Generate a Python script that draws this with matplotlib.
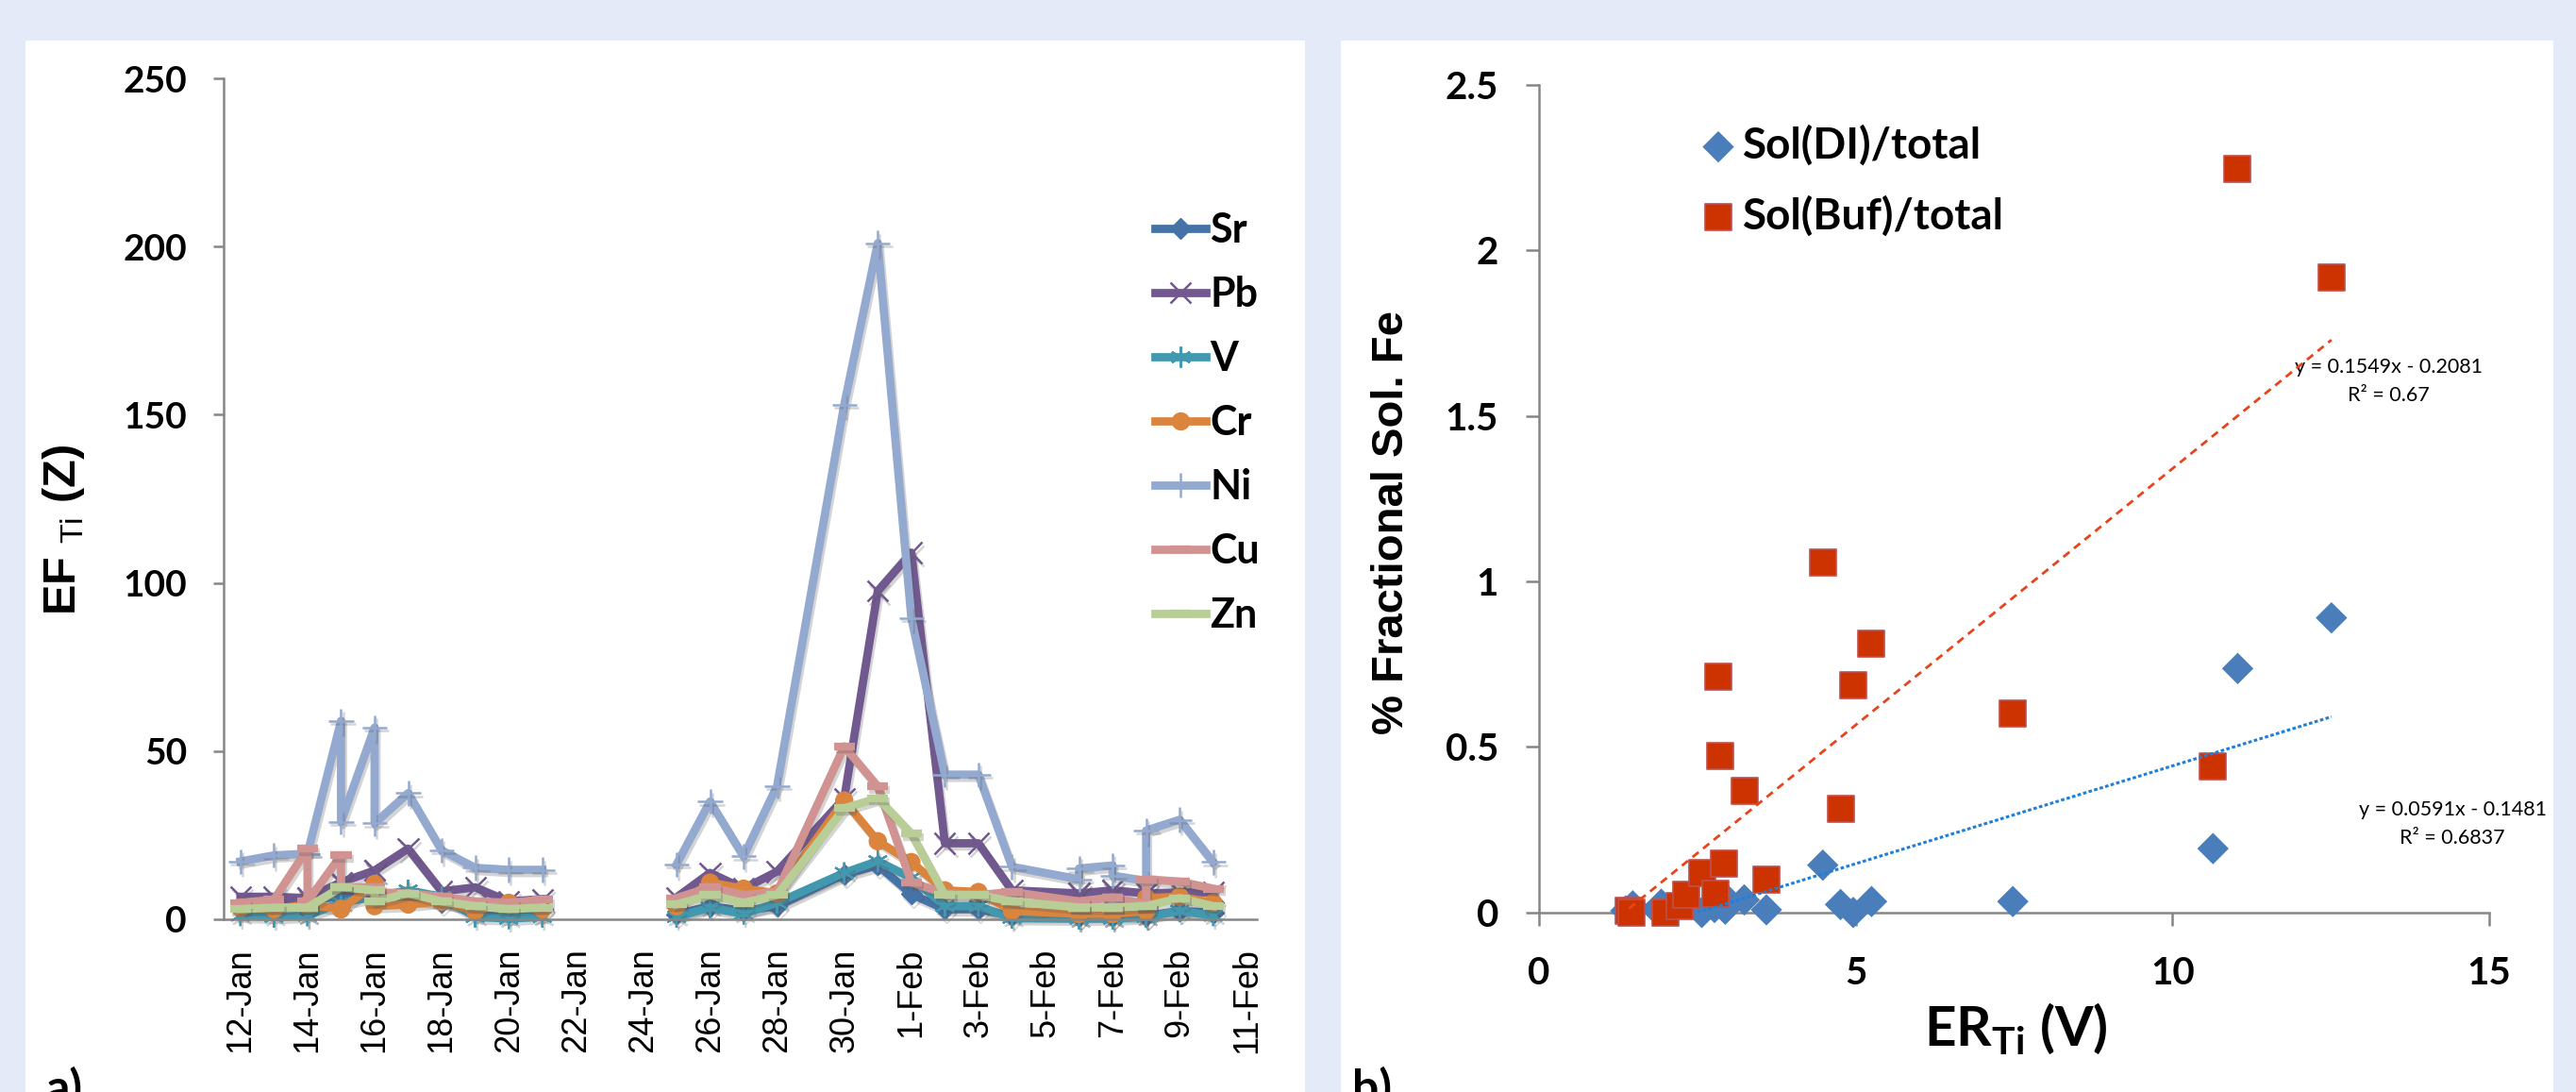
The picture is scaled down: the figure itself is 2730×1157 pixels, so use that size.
import numpy as np
import matplotlib
matplotlib.use("Agg")
import matplotlib.pyplot as plt
from matplotlib.patches import Rectangle
from matplotlib.font_manager import FontProperties
import matplotlib.patheffects as pe
import datetime as dt

plt.rcParams['mathtext.fontset'] = 'custom'
plt.rcParams['mathtext.rm'] = 'Liberation Sans'
plt.rcParams['mathtext.bf'] = 'Lato:bold'

nan = np.nan
# ---------------- panel a) data (day of year: Jan d -> d, Feb d -> 31+d) ----------------
days = [12, 13, 14, 14, 15, 15, 16, 16, 17, 18, 19, 20, 21, 23,
        25, 26, 27, 28, 30, 31, 32, 33, 34, 35, 37, 37, 38, 38, 39, 39, 40, 41]
sr = [3.5, 4.4, 5.3, 5.3, 7, 7, 8, 8, 6, 5, 3, 2, 3, nan,
      1.5, 3.9, 2.5, 3.9, 13.3, 16.1, 7.5, 3, 3, 1, 1, 1, 1, 1, 1, 1, 2.5, 2]
pb = [6.7, 6.7, 6.3, 6.3, 11, 11, 14.5, 14.5, 21, 8.3, 9.5, 5.3, 6, nan,
      6.5, 13.8, 9.1, 14.2, 36, 97.6, 109, 22.6, 22.6, 8.6, 7.7, 7.7, 8.6, 8.6, 7.7, 7.7, 8, 8]
v = [1.1, 0.7, 1.1, 1.1, 4.9, 4.9, 6.7, 6.7, 8.6, 6.7, 0.7, 0.2, 0.7, nan,
     0.7, 3.5, 1.6, 4.9, 13.8, 17.3, 12.3, 3.9, 3.9, 0.4, 0.2, 0.2, 0.2, 0.2, 0.7, 0.7, 2.5, 1.1]
cr = [3.5, 3, 4.4, 4.4, 3, 3, 10.5, 3.9, 4.4, 5.3, 2.5, 4.9, 3, nan,
      3.9, 10.9, 9.1, 7.7, 35.3, 23.2, 17, 8.6, 8.1, 2.5, 1.6, 1.6, 1.6, 1.6, 2.5, 6.3, 6.7, 4.9]
ni = [17.2, 19, 19.5, 19.5, 59, 29, 57, 28.5, 37.5, 20.5, 15.3, 14.7, 14.7, nan,
      16.3, 35, 18.7, 39.7, 153, 201, 89.6, 43, 43, 15.6, 11.9, 15.1, 16, 13, 11.4, 26.4, 29.6, 17]
cu = [4.9, 5.8, 21, 5.3, 19, 9.5, 9.5, 8, 7.7, 6.7, 5.3, 4.9, 5.8, nan,
      6.3, 9.5, 7.2, 8.1, 51.4, 39.5, 11, 7.7, 7.2, 8.1, 5.3, 5.3, 6.5, 6.5, 4.4, 11.9, 11.2, 9.1]
zn = [3, 3.5, 3.5, 3.5, 9.5, 9.5, 8.6, 5.3, 7.7, 5.3, 3.9, 3, 3.5, nan,
      4.4, 7.2, 4.9, 7.2, 33, 36, 25.5, 7.2, 7.2, 5.3, 3.5, 3.5, 3.5, 3.5, 3.9, 3.9, 6.3, 3.9]
series_names = ['Sr', 'Pb', 'V', 'Cr', 'Ni', 'Cu', 'Zn']
tick_days = list(range(12, 43, 2))
tick_labels = [(dt.date(2013, 1, 1) + dt.timedelta(days=d - 1)).strftime('%d-%b').lstrip('0')
               for d in tick_days]
y_ticks_a = [0, 50, 100, 150, 200, 250]

# ---------------- panel b) data ----------------
er_di = [1.37, 1.48, 1.87, 1.93, 2.57, 2.77, 2.94, 2.99, 3.24, 3.59, 4.48, 4.76, 4.96, 5.25,
         7.48, 10.64, 11.03, 12.51]
sol_di = [0.005, 0.02, 0.005, 0.025, 0.0, 0.015, 0.01, 0.035, 0.038, 0.008, 0.143, 0.024, 0.0,
          0.033, 0.033, 0.193, 0.737, 0.89]
er_buf = [1.42, 1.46, 2.00, 2.22, 2.32, 2.57, 2.78, 2.83, 2.86, 2.92, 3.24, 3.59, 4.48, 4.76,
          4.96, 5.25, 7.48, 10.64, 11.03, 12.51]
sol_buf = [0.005, 0.0, 0.0, 0.02, 0.054, 0.119, 0.057, 0.711, 0.473, 0.147, 0.366, 0.10, 1.058,
           0.312, 0.687, 0.812, 0.602, 0.442, 2.247, 1.919]
fit_di = (0.0591, -0.1481, 0.6837)
fit_buf = (0.1549, -0.2081, 0.67)

# ---------------- figure ----------------
W, H = 2730, 1157
fig = plt.figure(figsize=(W / 100, H / 100), dpi=100)
fig.patch.set_facecolor('#E4EAF7')
fig.add_artist(Rectangle((27 / W, 0), (1383 - 27) / W, 1 - 43 / H, transform=fig.transFigure,
                         facecolor='white', edgecolor='none', zorder=0))
fig.add_artist(Rectangle((1421 / W, 0), (2706 - 1421) / W, 1 - 43 / H, transform=fig.transFigure,
                         facecolor='white', edgecolor='none', zorder=0))

calibri_b = dict(family='Lato', weight='bold')
arial_b = dict(family='Liberation Sans', weight='bold')
axis_gray = '#868686'

# ---- panel a
ax1 = fig.add_axes([237 / W, 1 - 974 / H, (1332 - 237) / W, (974 - 83) / H])
ax1.patch.set_alpha(0)
styles = {
    'Sr': dict(color='#4572A7', marker='D', ms=11, mew=1),
    'Pb': dict(color='#71588F', marker='x', ms=16, mew=1.8),
    'V': dict(color='#4198AF', marker=(6, 2, 0), ms=16, mew=1.6),
    'Cr': dict(color='#DB843D', marker='o', ms=14, mew=0),
    'Ni': dict(color='#93A9CF', marker='+', ms=19, mew=1.8),
    'Cu': dict(color='#D19392', marker='_', ms=16, mew=6),
    'Zn': dict(color='#B9CD96', marker='_', ms=16, mew=6),
}
shadow = [pe.SimpleLineShadow(offset=(1.5, -2.5), shadow_color='#555555', alpha=0.25), pe.Normal()]
for name, vals in zip(series_names, [sr, pb, v, cr, ni, cu, zn]):
    st = styles[name]
    ax1.plot(days, vals, color=st['color'], lw=6.3, marker=st['marker'], ms=st['ms'],
             mew=st['mew'], mfc=st['color'], mec=st['color'], label=name, clip_on=False,
             solid_joinstyle='round', path_effects=shadow)

ax1.set_xlim(11.5, 42.3)
ax1.set_ylim(0, 250)
ax1.set_xticks(tick_days)
ax1.set_xticklabels(tick_labels, rotation=90, family='Liberation Sans', fontsize=26)
ax1.set_yticks(y_ticks_a)
ax1.set_yticklabels([str(t) for t in y_ticks_a], fontsize=28, **calibri_b)
ax1.tick_params(axis='x', length=0, pad=22)
ax1.tick_params(axis='y', direction='out', length=8, width=1.8, color=axis_gray, pad=20)
for s in ['top', 'right']:
    ax1.spines[s].set_visible(False)
for s in ['left', 'bottom']:
    ax1.spines[s].set_color(axis_gray)
    ax1.spines[s].set_linewidth(1.8)
leg1 = ax1.legend(loc='upper left', bbox_to_anchor=(0.882, 0.866), frameon=False, borderpad=0,
                  handlelength=1.25, handletextpad=0.1, labelspacing=0.65,
                  prop=FontProperties(family='Lato', weight='bold', size=31))
for h in leg1.legend_handles:
    h.set_path_effects([])

fig.text(67 / W, 1 - 561 / H, r'EF $_{\mathrm{Ti}}$ (Z)', rotation=90, ha='center', va='center',
         fontsize=35, **arial_b)

# ---- panel b
ax2 = fig.add_axes([1631 / W, 1 - 966.8 / H, (2638 - 1631) / W, (966.8 - 90) / H])
ax2.patch.set_alpha(0)
ax2.scatter(er_di, sol_di, marker='D', s=17 ** 2, color='#4A7EBB', edgecolors='none',
            label='Sol(DI)/total', zorder=3, clip_on=False)
ax2.scatter(er_buf, sol_buf, marker='s', s=20 ** 2, color='#CC3300', edgecolors='#C0504D',
            linewidths=1.2, label='Sol(Buf)/total', zorder=4, clip_on=False)
xd = np.array([min(er_di), max(er_di)])
ax2.plot(xd, fit_di[0] * xd + fit_di[1], color='#1F7FD8', lw=2.2, ls=(0, (1.2, 0.8)), zorder=5)
xb = np.array([min(er_buf), max(er_buf)])
ax2.plot(xb, fit_buf[0] * xb + fit_buf[1], color='#E8441A', lw=2.0, ls=(0, (3, 2.2)), zorder=5)
ax2.text(13.41, 1.648, 'y = 0.1549x - 0.2081', ha='center', va='center', fontsize=15.5, family='Lato')
ax2.text(13.41, 1.562, 'R\u00b2 = 0.67', ha='center', va='center', fontsize=15.5, family='Lato')
ax2.text(14.42, 0.311, 'y = 0.0591x - 0.1481', ha='center', va='center', fontsize=15.5, family='Lato')
ax2.text(14.42, 0.226, 'R\u00b2 = 0.6837', ha='center', va='center', fontsize=15.5, family='Lato')

ax2.set_xlim(0, 15)
ax2.set_ylim(0, 2.5)
xt = [0, 5, 10, 15]
yt = [0, 0.5, 1, 1.5, 2, 2.5]
ax2.set_xticks(xt)
ax2.set_xticklabels([str(t) for t in xt], fontsize=29, **calibri_b)
ax2.set_yticks(yt)
ax2.set_yticklabels(['0', '0.5', '1', '1.5', '2', '2.5'], fontsize=29, **calibri_b)
ax2.tick_params(axis='x', direction='out', length=10, width=1.8, color=axis_gray, pad=23)
ax2.tick_params(axis='y', direction='out', length=10, width=1.8, color=axis_gray, pad=21)
for s in ['top', 'right']:
    ax2.spines[s].set_visible(False)
for s in ['left', 'bottom']:
    ax2.spines[s].set_color(axis_gray)
    ax2.spines[s].set_linewidth(1.8)
ax2.legend(loc='upper left', bbox_to_anchor=(0.150, 0.978), frameon=False, borderpad=0,
           handlelength=0.7, handletextpad=0.22, labelspacing=0.68, scatterpoints=1,
           prop=FontProperties(family='Lato', weight='bold', size=33))

fig.text(2136 / W, 1 - 1090 / H, r'ER$_{\mathbf{Ti}}$ (V)', ha='center', va='center',
         fontsize=42, **calibri_b)
fig.text(1475 / W, 1 - 553 / H, '% Fractional Sol. Fe', rotation=90, ha='center', va='center',
         fontsize=34, **arial_b)

fig.text(49 / W, 1 - 1130 / H, 'a)', ha='left', va='top', fontsize=36, **calibri_b)
fig.text(1433 / W, 1 - 1130 / H, 'b)', ha='left', va='top', fontsize=36, **calibri_b)

fig.savefig('out.png', dpi=100, facecolor=fig.get_facecolor())
